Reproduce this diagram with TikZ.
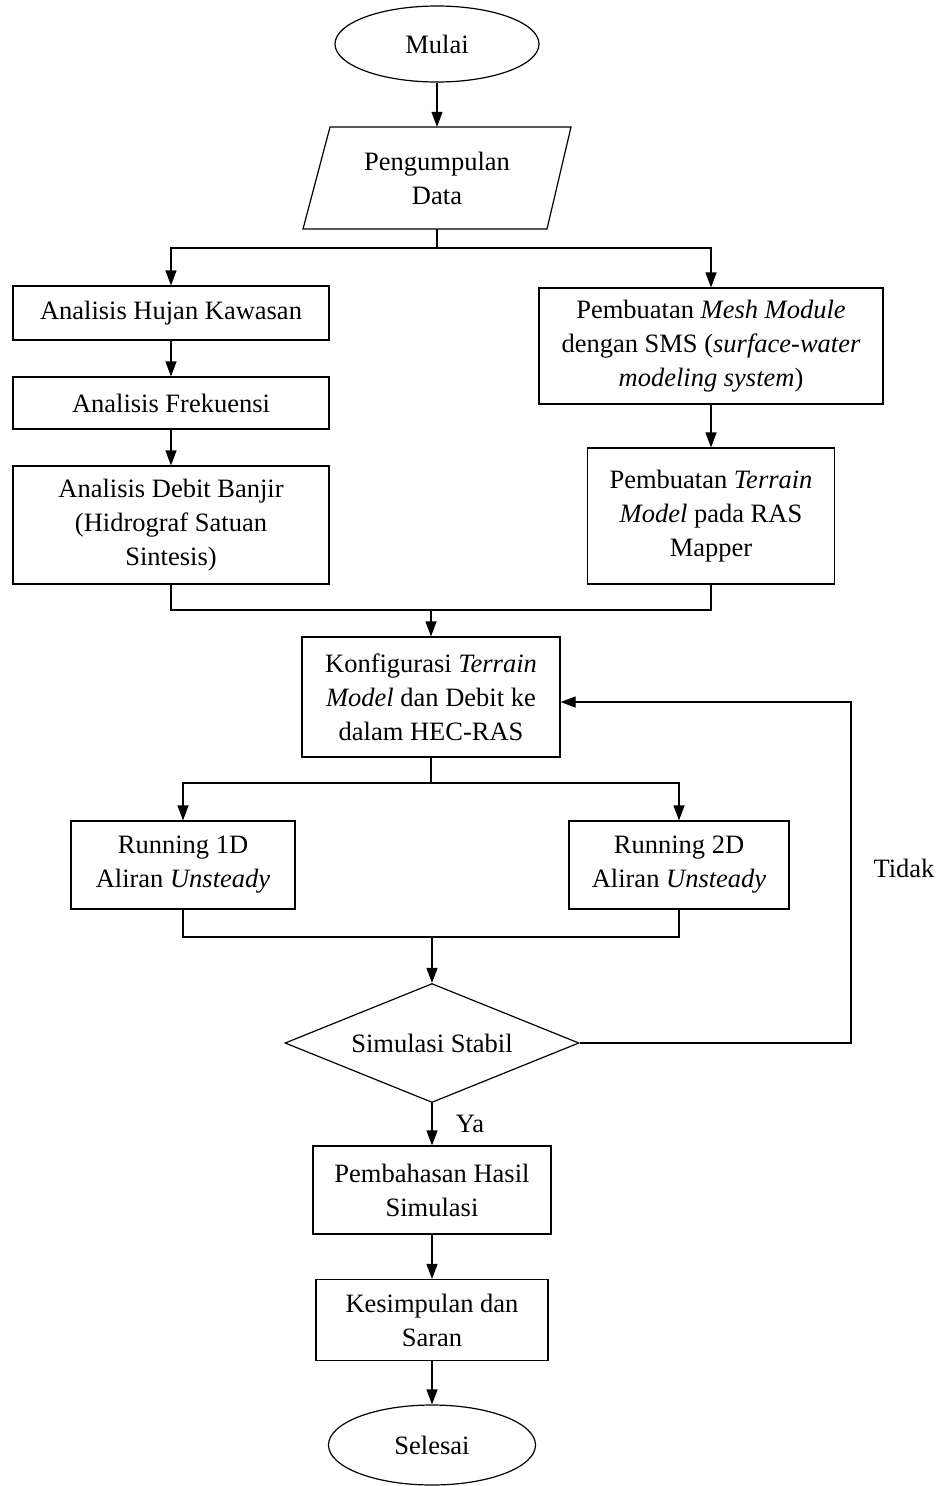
\documentclass[tikz,border=0pt]{standalone}
\usepackage{fontspec}
\setmainfont{Liberation Serif}
\usetikzlibrary{shapes.geometric,arrows.meta}
\begin{document}
\begin{tikzpicture}[x=1pt,y=-1pt,
  every node/.style={font=\fontsize{26.5}{34}\selectfont, inner sep=0pt, align=center},
  box/.style={draw, rectangle, line width=1.2pt},
  term/.style={draw, ellipse, line width=1.2pt},
  dec/.style={draw, diamond, aspect=2.47, line width=1.2pt},
  conn/.style={line width=1.2pt},
  arr/.style={line width=1.2pt, -{Triangle[width=11pt,length=15pt]}}]
\useasboundingbox (0,0) rectangle (935,1486);
% nodes
\node[term, minimum width=204, minimum height=76] (mulai) at (437,44) {Mulai};
\node[rectangle, minimum width=200, minimum height=102] (data) at (437,178) {Pengumpulan\\Data};
\draw[line width=1.2pt] (330,127) -- (571,127) -- (547,229) -- (303,229) -- cycle;
\node[box, minimum width=316, minimum height=54] (ahk) at (171,313) {Analisis Hujan Kawasan};
\node[box, minimum width=316, minimum height=52] (af) at (171,403) {Analisis Frekuensi};
\node[box, minimum width=316, minimum height=118] (adb) at (171,525) {Analisis Debit Banjir\\(Hidrograf Satuan\\Sintesis)};
\node[box, minimum width=344, minimum height=116] (mesh) at (711,346) {Pembuatan \textit{Mesh Module}\\dengan SMS (\textit{surface-water}\\\textit{modeling system})};
\node[box, minimum width=247, minimum height=136] (terrain) at (711,516) {Pembuatan \textit{Terrain}\\\textit{Model} pada RAS\\Mapper};
\node[box, minimum width=258, minimum height=120] (konf) at (431,697) {Konfigurasi \textit{Terrain}\\\textit{Model} dan Debit ke\\dalam HEC-RAS};
\node[box, minimum width=224, minimum height=88] (r1) at (183,865) {Running 1D\\Aliran \textit{Unsteady}};
\node[box, minimum width=220, minimum height=88] (r2) at (679,865) {Running 2D\\Aliran \textit{Unsteady}};
\node[dec, minimum width=294, minimum height=119] (sim) at (432,1043) {Simulasi Stabil};
\node[box, minimum width=238, minimum height=88] (pem) at (432,1190) {Pembahasan Hasil\\Simulasi};
\node[box, minimum width=232, minimum height=81] (kes) at (432,1320) {Kesimpulan dan\\Saran};
\node[term, minimum width=207, minimum height=80] (sel) at (432,1445) {Selesai};
\node (tidak) at (904,868) {Tidak};
\node (ya) at (470,1124) {Ya};
% coordinates
\coordinate (b1) at (437,248);
\coordinate (m1) at (431,610);
\coordinate (b2) at (431,783);
\coordinate (m2) at (432,937);
\coordinate (fb) at (851,702);
% connectors
\draw[arr] (mulai.south) -- (data.north);
\draw[conn] (data.south) -- (b1);
\draw[arr] (b1) -| (ahk.north);
\draw[arr] (b1) -| (mesh.north);
\draw[arr] (ahk.south) -- (af.north);
\draw[arr] (af.south) -- (adb.north);
\draw[arr] (mesh.south) -- (terrain.north);
\draw[conn] (adb.south) |- (m1) -| (terrain.south);
\draw[arr] (m1) -- (konf.north);
\draw[conn] (konf.south) -- (b2);
\draw[arr] (b2) -| (r1.north);
\draw[arr] (b2) -| (r2.north);
\draw[conn] (r1.south) |- (m2) -| (r2.south);
\draw[arr] (m2) -- (sim.north);
\draw[arr] (sim.east) -| (fb) -- (konf.east |- fb);
\draw[arr] (sim.south) -- (pem.north);
\draw[arr] (pem.south) -- (kes.north);
\draw[arr] (kes.south) -- (sel.north);
\end{tikzpicture}
\end{document}
